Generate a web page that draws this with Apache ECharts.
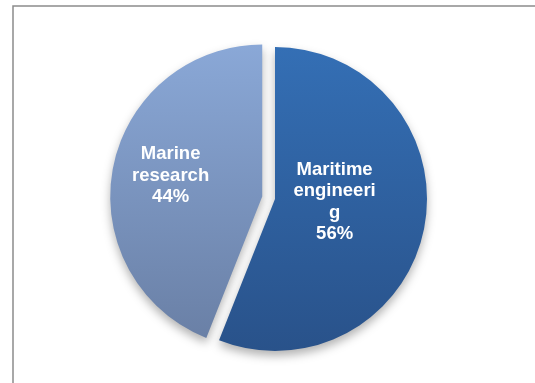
<!DOCTYPE html>
<html>
<head>
<meta charset="utf-8">
<script src="https://cdn.jsdelivr.net/npm/echarts@6/dist/echarts.min.js"></script>
<style>
  html, body { margin: 0; padding: 0; background: #fff; }
  #content { width: 535px; height: 383px; }
</style>
</head>
<body>
<div id="content"></div>
<script>
// data
var names = ["Maritime engineering", "Marine research"];
var values = [56, 44];
// label text as it is wrapped in the picture
var labelTexts = ["Maritime\nengineeri\ng", "Marine\nresearch"];

// colors (top / bottom of gradient)
var sliceColors = [
    ["#346fb5", "#29528a"],
    ["#8aa8d7", "#6a80a6"]
];

var myChart = echarts.init(document.getElementById("content"));

var pieData = [];
for (let i = 0; i < names.length; i++) {
    pieData.push({
        name: names[i],
        value: values[i],
        selected: i == 1,
        itemStyle: {
            color: {
                type: "linear",
                x: 0, y: 0, x2: 0, y2: 1,
                colorStops: [
                    { offset: 0, color: sliceColors[i][0] },
                    { offset: 1, color: sliceColors[i][1] }
                ]
            }
        },
        label: {
            formatter: labelTexts[i] + "\n{d}%"
        }
    });
}

myChart.setOption({
    animation: false,
    graphic: [{
        type: "rect",
        shape: { x: 13, y: 6, width: 600, height: 500 },
        style: { fill: "none", stroke: "#8c8c8c", lineWidth: 1.5 },
        silent: true
    }],
    series: [{
        type: "pie",
        center: [275, 199],
        radius: [0, 152],
        startAngle: 90,
        clockwise: true,
        selectedMode: "single",
        selectedOffset: 13,
        avoidLabelOverlap: false,
        itemStyle: {
            shadowBlur: 10,
            shadowOffsetY: 5,
            shadowColor: "rgba(0,0,0,0.3)"
        },
        label: {
            show: true,
            position: "inside",
            color: "#fff",
            fontFamily: "Liberation Sans, Arial",
            fontWeight: "bold",
            fontSize: 18.5,
            lineHeight: 21.5,
            textBorderWidth: 0
        },
        labelLine: { show: false },
        emphasis: { disabled: true },
        // move labels to where they sit in the picture
        labelLayout: function(params) {
            if (params.dataIndex == 0) {
                return { dx: -18, dy: -12 };
            }
            return { dx: -14, dy: -6 };
        },
        data: pieData
    }]
});
</script>
</body>
</html>
